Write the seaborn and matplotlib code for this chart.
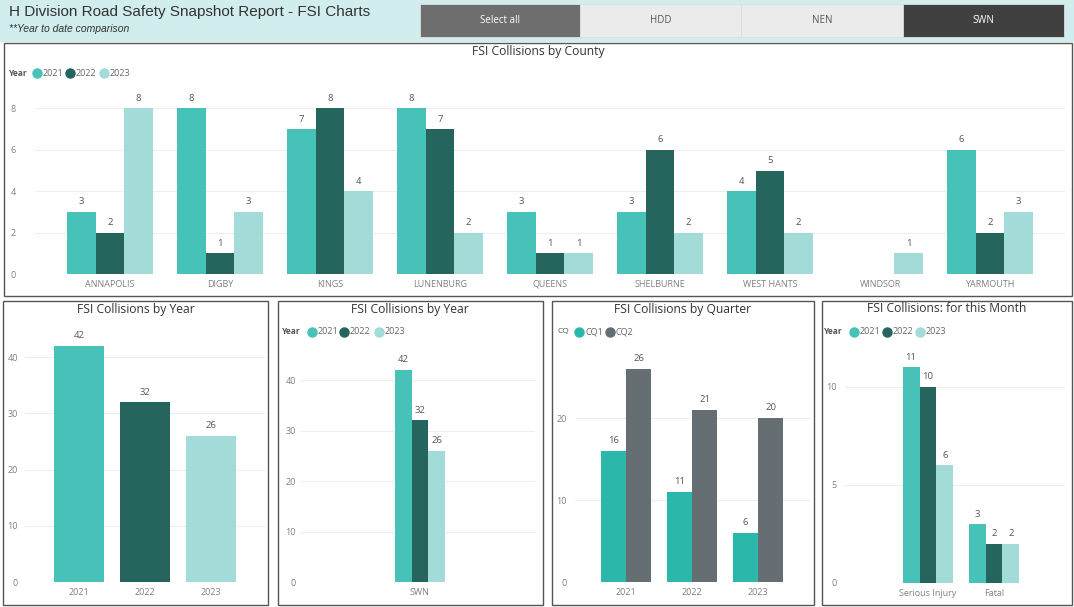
import matplotlib
matplotlib.use('Agg')
import matplotlib.pyplot as plt
from matplotlib.patches import Rectangle
from matplotlib.lines import Line2D
import seaborn as sns
import pandas as pd

sns.set_style('white')
plt.rcParams['font.family'] = ['Open Sans', 'DejaVu Sans']

# dados
years = ['2021', '2022', '2023']
year_colors = ['#47C2B8', '#26645E', '#A3DBD8']

counties = ['ANNAPOLIS', 'DIGBY', 'KINGS', 'LUNENBURG', 'QUEENS',
            'SHELBURNE', 'WEST HANTS', 'WINDSOR', 'YARMOUTH']
county_2021 = [3, 8, 7, 8, 3, 3, 4, None, 6]
county_2022 = [2, 1, 8, 7, 1, 6, 5, None, 2]
county_2023 = [8, 3, 4, 2, 1, 2, 2, 1, 3]

total_by_year = [42, 32, 26]

division = ['SWN']
division_by_year = [42, 32, 26]

quarters = ['CQ1', 'CQ2']
quarter_colors = ['#2BB7A9', '#656E72']
cq1 = [16, 11, 6]
cq2 = [26, 21, 20]

month_types = ['Serious Injury', 'Fatal']
month_2021 = [11, 3]
month_2022 = [10, 2]
month_2023 = [6, 2]

W, H = 1074, 607
fig = plt.figure(figsize=(W / 100, H / 100), dpi=100)
fig.patch.set_facecolor('white')

TITLE_SIZE = 8.7


def fx(x):
    return x / W


def fy(y):
    return 1 - y / H


def add_ax(left, right, zero, top):
    return fig.add_axes([fx(left), fy(zero), (right - left) / W, (zero - top) / H])


def box(x0, y0, x1, y1, **kw):
    fig.patches.append(Rectangle((fx(x0), fy(y1)), (x1 - x0) / W, (y1 - y0) / H,
                                 transform=fig.transFigure, **kw))


def legend(title, y, title_x, items, bold=True):
    fig.text(fx(title_x), fy(y), title, fontsize=6, color='#555555',
             fontweight='bold' if bold else 'normal', va='center')
    for cx, label, color in items:
        fig.add_artist(Line2D([fx(cx)], [fy(y)], marker='o', ms=6.5, color=color,
                              lw=0, transform=fig.transFigure))
        fig.text(fx(cx + 6), fy(y), label, fontsize=6.5, color='#666666', va='center')


def style(ax, ticks, ylim, xlim, pad):
    ax.set_ylim(*ylim)
    ax.set_xlim(*xlim)
    ax.set_yticks(ticks)
    ax.yaxis.grid(True, color='#EEEEEE', lw=0.8)
    ax.set_axisbelow(True)
    for s in ax.spines.values():
        s.set_visible(False)
    ax.tick_params(axis='both', length=0, labelsize=6.5, colors='#808080')
    ax.tick_params(axis='y', pad=pad)
    ax.tick_params(axis='x', pad=4)
    ax.set_xlabel('')
    ax.set_ylabel('')
    ax.set_facecolor('none')


def labels(ax):
    for c in ax.containers:
        ax.bar_label(c, fmt='%d', padding=4, fontsize=6.8, color='#555555')


bar_kw = dict(saturation=1, legend=False, linewidth=0)

# cabeçalho
box(0, 0, W, 42, facecolor='#D2EDED', edgecolor='none', zorder=0)
fig.text(fx(9), fy(12), 'H Division Road Safety Snapshot Report - FSI Charts',
         fontsize=11, color='#333333', va='center', family='Liberation Sans')
fig.text(fx(9), fy(29), '**Year to date comparison', fontsize=7.5, style='italic',
         color='#333333', va='center', family='Liberation Sans')
buttons = [(420, 580, 'Select all', '#6E6E6E', 'white'),
           (580, 741, 'HDD', '#EBEBEB', '#555555'),
           (741, 903, 'NEN', '#EBEBEB', '#555555'),
           (903, 1064, 'SWN', '#404040', 'white')]
for x0, x1, t, fc, tc in buttons:
    box(x0, 4, x1, 37, facecolor=fc, edgecolor='#DDDDDD', lw=0.6)
    fig.text(fx((x0 + x1) / 2), fy(20.5), t, fontsize=7, color=tc, ha='center', va='center')

# molduras
box(4, 43, 1072, 296, facecolor='none', edgecolor='#555555', lw=1)
box(3, 301, 268, 605, facecolor='none', edgecolor='#555555', lw=1)
box(278, 301, 543, 605, facecolor='none', edgecolor='#555555', lw=1)
box(552, 301, 814, 605, facecolor='none', edgecolor='#555555', lw=1)
box(822, 301, 1072, 605, facecolor='none', edgecolor='#555555', lw=1)

# FSI Collisions by County
rows = []
for i, c in enumerate(counties):
    for y, vals in zip(years, [county_2021, county_2022, county_2023]):
        if vals[i] is not None:
            rows.append({'county': c, 'year': y, 'n': vals[i]})
df_county = pd.DataFrame(rows)
ax = add_ax(35, 1065, 274, 90)
sns.barplot(data=df_county, x='county', y='n', hue='year', order=counties,
            hue_order=years, palette=year_colors, width=0.78, ax=ax, **bar_kw)
style(ax, [0, 2, 4, 6, 8], (0, (274 - 90) / 20.7), (-75 / 110, 955 / 110), 14)
labels(ax)
fig.text(fx(538), fy(51), 'FSI Collisions by County', fontsize=TITLE_SIZE, color='#333333',
         ha='center', va='center')
legend('Year', 73, 9, [(37, '2021', year_colors[0]), (70, '2022', year_colors[1]),
                       (104, '2023', year_colors[2])])

# FSI Collisions by Year
df_year = pd.DataFrame({'year': years, 'n': total_by_year})
ax = add_ax(25, 265, 582, 325)
sns.barplot(data=df_year, x='year', y='n', hue='year', palette=year_colors,
            width=0.77, ax=ax, **bar_kw)
style(ax, [0, 10, 20, 30, 40], (0, (582 - 325) / 5.62), (-54 / 66, 186 / 66), 5)
labels(ax)
fig.text(fx(136), fy(309), 'FSI Collisions by Year', fontsize=TITLE_SIZE, color='#333333',
         ha='center', va='center')

# FSI Collisions by Year (SWN)
df_div = pd.DataFrame({'div': division * 3, 'year': years, 'n': division_by_year})
ax = add_ax(300, 535, 582, 345)
sns.barplot(data=df_div, x='div', y='n', hue='year', hue_order=years,
            palette=year_colors, width=0.77, ax=ax, **bar_kw)
style(ax, [0, 10, 20, 30, 40], (0, (582 - 345) / 5.05), (-120 / 66, 115 / 66), 3)
labels(ax)
fig.text(fx(410), fy(309), 'FSI Collisions by Year', fontsize=TITLE_SIZE, color='#333333',
         ha='center', va='center')
legend('Year', 332, 282, [(312, '2021', year_colors[0]), (344, '2022', year_colors[1]),
                          (379, '2023', year_colors[2])])

# FSI Collisions by Quarter
df_q = pd.DataFrame({'year': years * 2, 'cq': ['CQ1'] * 3 + ['CQ2'] * 3, 'n': cq1 + cq2})
ax = add_ax(575, 810, 582, 345)
sns.barplot(data=df_q, x='year', y='n', hue='cq', hue_order=quarters,
            palette=quarter_colors, width=0.76, ax=ax, **bar_kw)
style(ax, [0, 10, 20], (0, (582 - 345) / 8.2), (-51 / 66, 184 / 66), 6)
labels(ax)
fig.text(fx(683), fy(309), 'FSI Collisions by Quarter', fontsize=TITLE_SIZE, color='#333333',
         ha='center', va='center')
legend('CQ', 332, 557, [(579, 'CQ1', quarter_colors[0]), (610, 'CQ2', quarter_colors[1])],
       bold=False)

# FSI Collisions: for this Month
df_m = pd.DataFrame({'tipo': month_types * 3,
                     'year': [y for y in years for _ in month_types],
                     'n': month_2021 + month_2022 + month_2023})
ax = add_ax(845, 1065, 583, 345)
sns.barplot(data=df_m, x='tipo', y='n', hue='year', order=month_types, hue_order=years,
            palette=year_colors, width=0.77, ax=ax, **bar_kw)
style(ax, [0, 5, 10], (0, (583 - 345) / 19.6), (-83 / 66, 137 / 66), 6)
labels(ax)
fig.text(fx(947), fy(309), 'FSI Collisions: for this Month', fontsize=TITLE_SIZE,
         color='#333333', ha='center', va='center')
legend('Year', 332, 824, [(854, '2021', year_colors[0]), (887, '2022', year_colors[1]),
                          (920, '2023', year_colors[2])])

fig.savefig('out.png', dpi=100)
